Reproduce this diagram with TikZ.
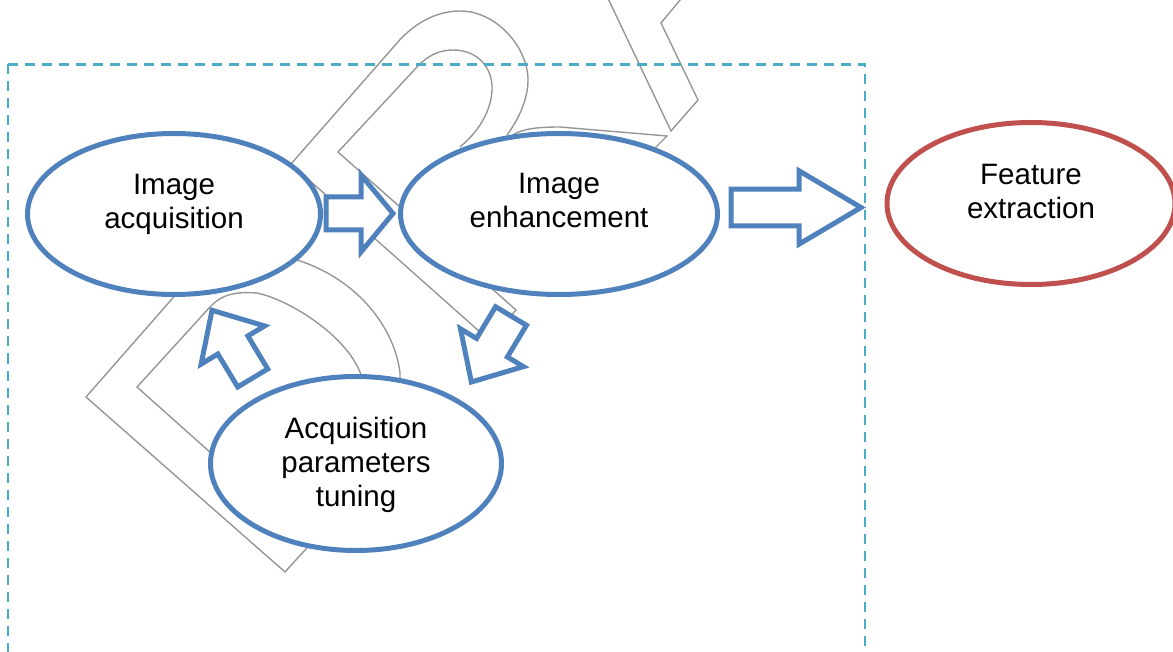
\documentclass[tikz,border=0pt]{standalone}
\usepackage{fontspec}
\setmainfont{Liberation Sans}
\usetikzlibrary{shapes.geometric}
\definecolor{procblue}{RGB}{79,129,189}
\definecolor{featred}{RGB}{192,80,77}
\definecolor{boxcyan}{RGB}{75,172,198}
\definecolor{loopgray}{RGB}{150,150,150}
\newcommand{\blockarrow}[7]{%
  \draw[barrow, shift={(#1,#2)}, rotate=#3]
    (0,-#6) -- (#4-#5,-#6) -- (#4-#5,-#7) -- (#4,0) -- (#4-#5,#7) -- (#4-#5,#6) -- (0,#6) -- cycle;}

\begin{document}
\begin{tikzpicture}[x=1pt, y=-1pt,
    proc/.style={ellipse, draw=procblue, line width=5pt, fill=white, inner sep=0pt},
    lbl/.style={font=\fontsize{29.5}{34}\selectfont, align=center, inner sep=0pt},
    barrow/.style={draw=procblue, line width=5pt, fill=white, line join=miter},
    loopline/.style={draw=loopgray, line width=1.4pt},
    groupbox/.style={draw=boxcyan, line width=2.3pt, dash pattern=on 10pt off 7pt}]
    \useasboundingbox (0,0) rectangle (1173,652);
    \clip (0,0) rectangle (1173,652);
    \draw[loopline] (507,135) .. controls (518,120) and (528,100) .. (528,80)
        .. controls (528,48) and (497,11) .. (460,11) .. controls (440,11) and (417,20) .. (397,43)
        -- (291,164) -- (489,340) -- (516,310) -- (338,152) -- (417,67)
        .. controls (428,55) and (440,50) .. (453,50) .. controls (478,50) and (493,68) .. (492,90)
        .. controls (491,112) and (478,132) .. (460,147);
    \draw[loopline] (400,380) -- (400,373) .. controls (395,330) and (360,280) .. (297,260)
        .. controls (260,245) and (225,245) .. (200,267) -- (86,397) -- (285,572) -- (305,550) -- (320,533);
    \draw[loopline] (362,378) -- (360,372) .. controls (345,335) and (290,300) .. (257,293)
        .. controls (240,292) and (224,292) .. (210,307) -- (137,387) -- (230,470);
    \draw[loopline] (604,-10) -- (671,131) -- (698,100) -- (661,23) -- (690,-12);
    \draw[loopline] (503,145) .. controls (512,130) and (530,127) .. (560,127) -- (667,136) -- (645,158);
    \draw[groupbox] (8,64.5) rectangle (865,700);
    \node[proc, minimum width=293pt, minimum height=161pt] (acq) at (174,214) {};
    \node[proc, minimum width=317pt, minimum height=161pt] (enh) at (559,214) {};
    \node[proc, minimum width=291pt, minimum height=174pt] (tun) at (356,463.5) {};
    \node[proc, draw=featred, minimum width=288pt, minimum height=162pt] (feat) at (1031,203.5) {};
    \node[lbl] (acqtxt) at ([yshift=10pt]acq.center) {Image\\acquisition};
    \node[lbl] (enhtxt) at ([yshift=14pt]enh.center) {Image\\enhancement};
    \node[lbl] (tuntxt) at ([yshift=-1pt]tun.center) {Acquisition\\parameters\\tuning};
    \node[lbl] (feattxt) at ([yshift=12pt]feat.center) {Feature\\extraction};
    \blockarrow{326}{213.5}{0}{67}{32}{16.5}{38.5}
    \blockarrow{731}{207.5}{0}{130}{62}{18.3}{36.7}
    \blockarrow{511}{316}{-121}{77}{40}{18}{36.7}
    \blockarrow{252.7}{378}{121}{79}{40.5}{17.5}{37}
\end{tikzpicture}
\end{document}
